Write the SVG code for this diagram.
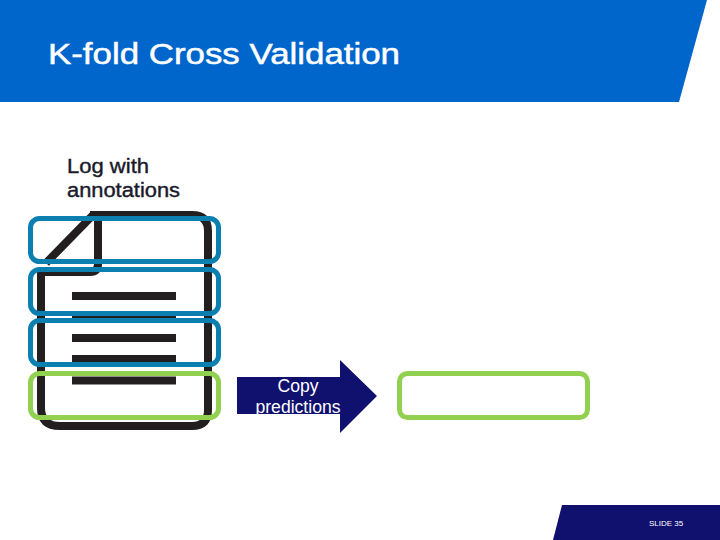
<svg xmlns="http://www.w3.org/2000/svg" width="720" height="540" viewBox="0 0 720 540">
<style>
text{font-family:"Liberation Sans",Arial,sans-serif}
.doc{fill:none;stroke:#231f20;stroke-width:8}
.bar{fill:#231f20}
.fold{fill:none;stroke-width:5}
.blue{stroke:#0b7fb0}
.green{stroke:#92d050}
.title{font-size:30px;fill:#fff;stroke:#fff;stroke-width:.5px}
.label{font-size:20px;fill:#1a1a2a;stroke:#1a1a2a;stroke-width:.4px}
</style>
<rect width="720" height="540" fill="#fff"/>
<g id="header">
<polygon points="0,0 707,0 679,102 0,102" fill="#0066cc"/>
<text class="title" x="48" y="64" textLength="352" lengthAdjust="spacingAndGlyphs">K-fold Cross Validation</text>
</g>
<g id="log-label">
<text class="label" x="67" y="173" textLength="82" lengthAdjust="spacingAndGlyphs">Log with</text>
<text class="label" x="67" y="197" textLength="113" lengthAdjust="spacingAndGlyphs">annotations</text>
</g>
<g id="document">
<path class="doc" d="M90,215 H192 Q208,215 208,231 V410 Q208,426 192,426 H60 Q41,426 41,408 V272 H90 Q98,272 98,264 V215 M93,215 L46,263"/>
<rect class="bar" x="72" y="292" width="104" height="8"/>
<rect class="bar" x="72" y="313" width="104" height="8"/>
<rect class="bar" x="72" y="334" width="104" height="8"/>
<rect class="bar" x="72" y="355" width="104" height="7"/>
<rect class="bar" x="72" y="376.500" width="104" height="8"/>
</g>
<g id="fold-1"><rect class="fold blue" x="30.500" y="218.500" width="188" height="43" rx="9"/></g>
<g id="fold-2"><rect class="fold blue" x="30.500" y="269.500" width="188" height="44" rx="9"/></g>
<g id="fold-3"><rect class="fold blue" x="30.500" y="320.500" width="188" height="44" rx="9"/></g>
<g id="fold-4"><rect class="fold green" x="30.500" y="373.500" width="188" height="44" rx="9"/></g>
<g id="copy-arrow">
<polygon points="237,377 340,377 340,360 377,396 340,433 340,414 237,414" fill="#10106e"/>
<text x="298" y="392" font-size="17.600" fill="#fff" text-anchor="middle">Copy</text>
<text x="298" y="413" font-size="17.600" fill="#fff" text-anchor="middle">predictions</text>
</g>
<g id="predictions"><rect class="fold green" x="399.500" y="373.500" width="188" height="44" rx="8"/></g>
<g id="footer">
<polygon points="562,505 720,505 720,540 553,540" fill="#10106e"/>
<text x="649" y="526" font-size="8" fill="#fff">SLIDE 35</text>
</g>
<g id="connectors"></g>
</svg>
